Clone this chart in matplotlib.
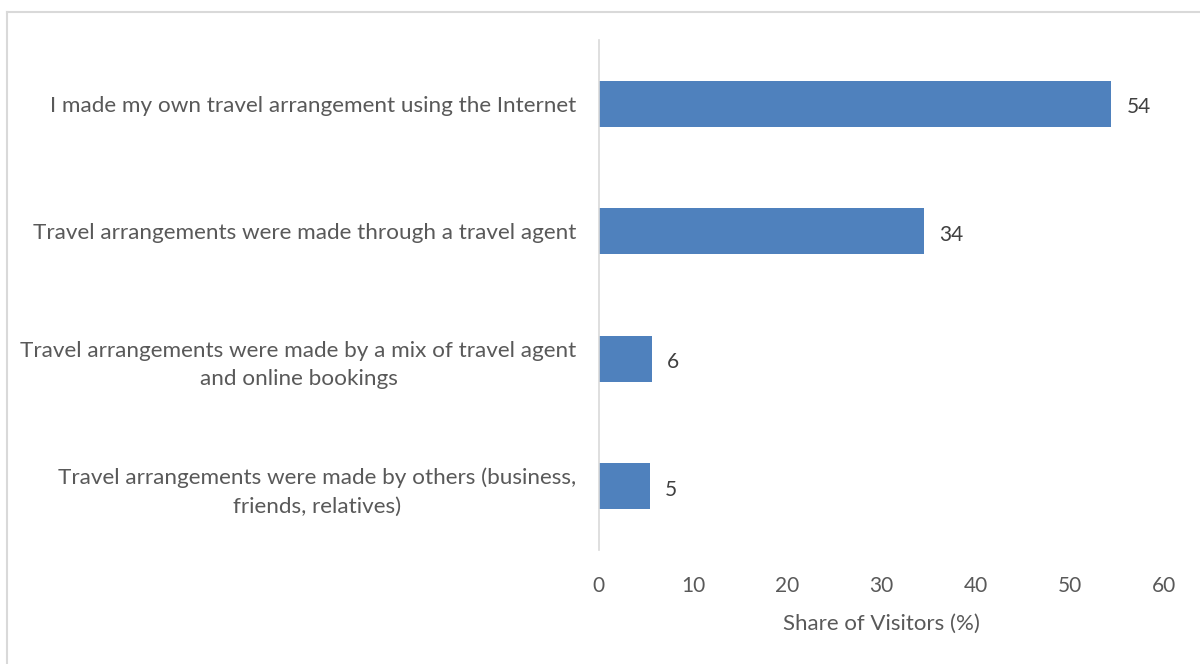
import matplotlib.pyplot as plt
from matplotlib.lines import Line2D

categories = [
    "I made my own travel arrangement using the Internet",
    "Travel arrangements were made through a travel agent",
    "Travel arrangements were made by a mix of travel agent\nand online bookings",
    "Travel arrangements were made by others (business,\nfriends, relatives)",
]
shares = [54.4, 34.5, 5.6, 5.4]
x_ticks = [0, 10, 20, 30, 40, 50, 60]

text_color = "#595959"
bar_color = "#4F81BD"

plt.rcParams["font.family"] = ["Lato", "DejaVu Sans"]

fig = plt.figure(figsize=(12, 6.64), dpi=100)
ax = fig.add_axes([0.499, 0.172, 0.471, 0.768])

pos = list(range(len(categories)))
bars = ax.barh(pos, shares, height=0.36, color=bar_color)
ax.set_ylim(len(categories) - 0.5, -0.5)
ax.set_xlim(0, 60)

for b, v in zip(bars, shares):
    ax.text(b.get_width() + 1.6, b.get_y() + b.get_height() / 2 + 0.03, f"{v:.0f}",
            va="center", ha="left", fontsize=15, color="#404040")

ax.set_yticks(pos)
ax.set_yticklabels(categories, fontsize=16.2, color=text_color,
                   multialignment="center", linespacing=1.55)
ax.set_xticks(x_ticks)
ax.set_xticklabels([str(t) for t in x_ticks], fontsize=15, color=text_color)
ax.tick_params(axis="y", length=0, pad=16)
ax.tick_params(axis="x", length=0, pad=19)
ax.set_xlabel("Share of Visitors (%)", fontsize=16, color=text_color, labelpad=13)

for side in ["top", "right", "bottom"]:
    ax.spines[side].set_visible(False)
ax.spines["left"].set_color("#D9D9D9")
ax.spines["left"].set_linewidth(1.2)

# light chart-area border along the left and top edges
fig.add_artist(Line2D([0.0055, 0.0055], [0, 0.982], color="#D9D9D9", lw=1.5))
fig.add_artist(Line2D([0.0055, 1.0], [0.982, 0.982], color="#D9D9D9", lw=1.5))

fig.savefig("out.png", dpi=100)
